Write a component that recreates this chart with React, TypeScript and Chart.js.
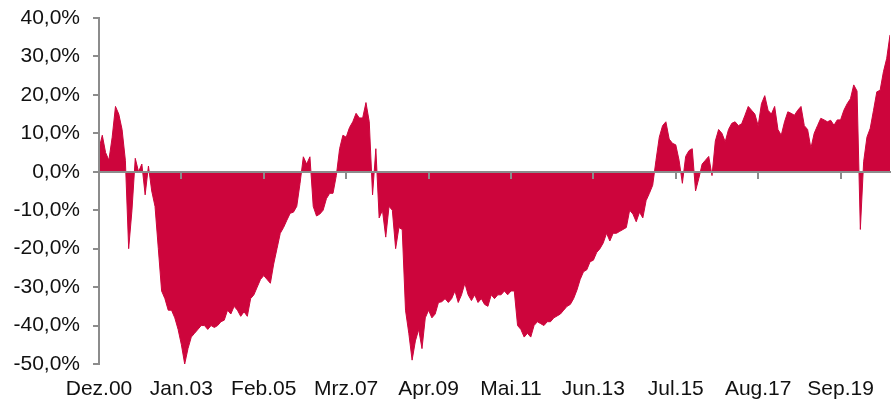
import { useEffect, useRef } from "react";
import { Chart, registerables } from "chart.js";

Chart.register(...registerables);

// X-axis tick labels, one every 25 months starting Dec 2000
const TICK_LABELS = ["Dez.00", "Jan.03", "Feb.05", "Mrz.07", "Apr.09", "Mai.11", "Jun.13", "Jul.15", "Aug.17", "Sep.19"];
const MONTHS_PER_TICK = 25;

// Y-axis range (percent)
const Y_MIN = -50;
const Y_MAX = 40;
const Y_STEP = 10;

// Monthly relative performance (%), Dec 2000 .. Dec 2020
const VALUES = [
  6, 9.5, 5, 3, 9, 17, 15, 11, 3, -20,
  -10, 3.5, 0, 2, -6, 1.5, -5, -9, -20, -31,
  -33, -36, -36, -38, -41, -45, -50, -46, -43, -42,
  -41, -40, -40, -41, -40, -40.5, -40, -39, -38.6, -36,
  -37, -35, -36, -37.6, -36.4, -37.6, -33, -32, -30, -28,
  -27, -28, -29, -24, -20, -16, -14.5, -12.6, -10.8, -10.5,
  -9, -3, 3.9, 2, 3.9, -9, -11.5, -11, -10, -7,
  -5.6, -5.6, -1, 6, 9.5, 9, 11.5, 13, 15.2, 14,
  14, 18, 13, -6, 6, -12, -10, -17, -9, -10,
  -20, -14.5, -15, -36, -42, -49, -44, -41, -46, -38,
  -36, -38, -37, -34, -33.8, -33, -34, -33, -31, -34,
  -32, -29, -32, -33.5, -32, -34, -33, -34.5, -35, -32,
  -33, -32, -32, -31, -32, -31, -31, -40, -41, -43,
  -42, -43, -40, -39, -39.5, -40, -39, -39, -38, -37.5,
  -37, -36, -35, -34.5, -33, -30.8, -28, -26, -25.5, -23.4,
  -23, -21, -20, -18.5, -16, -18, -16, -16, -15.5, -15,
  -14.5, -10, -11, -13, -10.5, -12, -7.5, -5.6, -3.5, 3,
  9, 12, 13, 8.5, 7.4, 7, 3, -3, 4, 5.5,
  6, -5, -1.7, 2, 3, 4, -1, 8, 11, 10,
  7.8, 11, 12.6, 13, 12, 12.5, 14.7, 17, 16, 15,
  12, 17.7, 19.8, 16, 15, 17, 11, 9.5, 13, 15.6,
  15.2, 14.7, 16, 17, 12, 11, 6.1, 10, 12, 13.9,
  13.5, 13, 13.4, 12.1, 13.5, 13.5, 16, 17.7, 19, 22.6,
  21, -15, 2.6, 9, 11.3, 16, 20.8, 21.2, 26, 29.5,
  35.6,
];

const RED = "#CD053C";
const GRAY = "#8C8C8C";
const TEXT = "#111111";
const FONT = { family: "'Liberation Sans', Arial, sans-serif", size: 21 };

export default function App() {
  const ref = useRef<HTMLCanvasElement>(null);

  useEffect(() => {
    if (!ref.current) return;
    const points = VALUES.map((v, i) => ({ x: i, y: v }));
    const lastIdx = VALUES.length - 1;
    const chart = new Chart(ref.current, {
      type: "line",
      data: {
        datasets: [
          {
            data: points,
            fill: "origin",
            backgroundColor: RED,
            borderColor: RED,
            borderWidth: 1,
            pointRadius: 0,
            tension: 0,
          },
        ],
      },
      options: {
        animation: false,
        responsive: false,
        layout: { autoPadding: false, padding: { top: 18, right: 1, bottom: 0, left: 0 } },
        plugins: { legend: { display: false }, tooltip: { enabled: false } },
        scales: {
          x: {
            type: "linear",
            min: 0,
            max: lastIdx,
            position: "bottom",
            grid: { display: false, drawTicks: false },
            border: { display: false },
            ticks: {
              stepSize: MONTHS_PER_TICK,
              includeBounds: false,
              autoSkip: false,
              maxRotation: 0,
              minRotation: 0,
              padding: 13,
              font: FONT,
              color: TEXT,
              callback: (v: any) => TICK_LABELS[Math.round(Number(v) / MONTHS_PER_TICK)] ?? "",
            },
            afterFit: (s: any) => {
              s.height = 39;
              s.paddingLeft = 0;
              s.paddingRight = 0;
            },
          },
          x0: {
            type: "linear",
            axis: "x",
            min: 0,
            max: lastIdx,
            position: { y: 0 },
            grid: { display: true, drawOnChartArea: false, drawTicks: true, tickLength: 6, color: GRAY, lineWidth: 2, z: 1 },
            border: { display: true, color: GRAY, width: 2, z: 2 },
            ticks: { display: false, stepSize: MONTHS_PER_TICK, includeBounds: false },
            afterFit: (s: any) => {
              s.height = 0;
            },
          },
          y: {
            min: Y_MIN,
            max: Y_MAX,
            position: "left",
            grid: { display: true, drawOnChartArea: false, drawTicks: true, tickLength: 6, color: GRAY, lineWidth: 2, z: 1 },
            border: { display: true, color: GRAY, width: 2, z: 2 },
            ticks: {
              stepSize: Y_STEP,
              padding: 13,
              font: FONT,
              color: TEXT,
              callback: (v: any) => Number(v).toFixed(1).replace(".", ",") + "%",
            },
            afterFit: (s: any) => {
              s.width = 99;
              s.paddingTop = 0;
              s.paddingBottom = 0;
            },
          },
        },
      },
    } as any);
    return () => chart.destroy();
  }, []);

  return (
    <div style={{ position: "fixed", left: 0, top: 0, width: 891, height: 403, background: "#fff" }}>
      <canvas ref={ref} width={891} height={403} style={{ display: "block" }} />
    </div>
  );
}
